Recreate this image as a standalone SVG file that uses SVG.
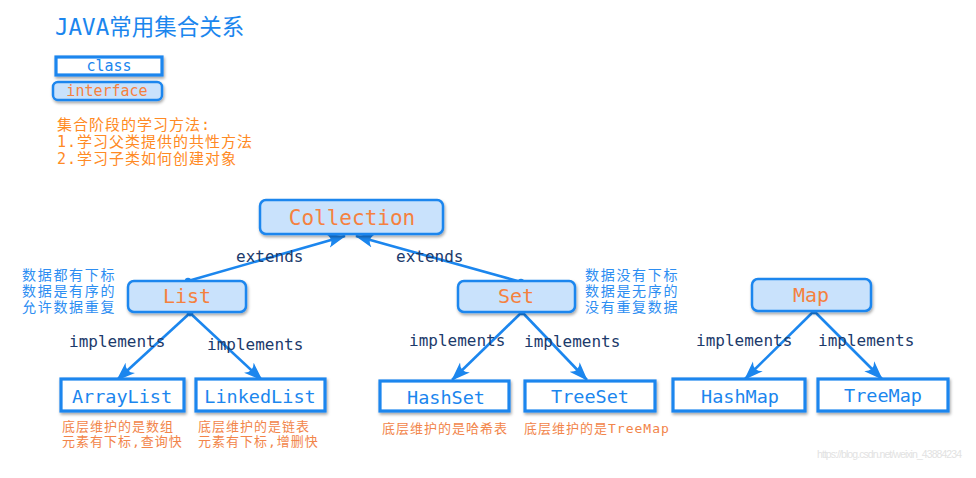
<svg xmlns="http://www.w3.org/2000/svg" width="976" height="478" viewBox="0 0 976 478">
<defs>
<filter id="sh" x="-20%" y="-30%" width="140%" height="170%">
<feDropShadow dx="1" dy="2" stdDeviation="1.6" flood-color="#000" flood-opacity="0.35"/>
</filter>
<marker id="ah" markerUnits="userSpaceOnUse" markerWidth="20" markerHeight="16" viewBox="0 0 20 16" refX="18" refY="8" orient="auto">
<path d="M0,1 Q7,8 0,15 L19,8 Z" fill="#1b86ee"/>
</marker>
<marker id="dot" markerUnits="userSpaceOnUse" markerWidth="8" markerHeight="8" viewBox="0 0 8 8" refX="4" refY="4">
<circle cx="4" cy="4" r="3.2" fill="#1b86ee"/>
</marker>
</defs>
<style>
.mono{font-family:"DejaVu Sans Mono","Noto Sans CJK SC",monospace}
.cjk{font-family:"DejaVu Sans Mono","Noto Sans CJK SC",sans-serif}
.iface{fill:#c9e2fc;stroke:#1b86ee;stroke-width:2.5;filter:url(#sh)}
.cls{fill:#fff;stroke:#1b86ee;stroke-width:3.2;filter:url(#sh)}
.ilbl{fill:#f5813f;text-anchor:middle}
.clbl{fill:#1b86ee;text-anchor:middle;font-size:18.5px}
.rel{fill:#1c3a6b;font-size:16px}
.note{fill:#2d8ef2;font-size:14px;letter-spacing:1.7px}
.cap{fill:#f2854a;font-size:13px;letter-spacing:1px}
.con{stroke:#1b86ee;stroke-width:2.6;fill:none;marker-end:url(#ah);marker-start:url(#dot)}
</style>
<rect width="976" height="478" fill="#fff"/>

<g id="legend">
<text x="55" y="35" class="cjk" font-size="22.5" fill="#1b86ee">JAVA常用集合关系</text>
<rect x="56" y="57" width="106" height="18" class="cls" stroke-width="2.6"/>
<text x="109" y="70.5" class="mono" font-size="15" fill="#1b86ee" text-anchor="middle">class</text>
<rect x="53" y="82" width="109" height="18" rx="5" class="iface"/>
<text x="107" y="96" class="mono" font-size="15" fill="#f5813f" text-anchor="middle">interface</text>
<g class="cjk" font-size="15" fill="#ff8a24" letter-spacing="1">
<text x="57" y="130">集合阶段的学习方法:</text>
<text x="57" y="147">1.学习父类提供的共性方法</text>
<text x="57" y="164">2.学习子类如何创建对象</text>
</g>
</g>

<g id="connectors">
<line x1="188" y1="281" x2="345" y2="236" class="con"/>
<line x1="521" y1="282" x2="356" y2="236" class="con"/>
<line x1="190" y1="313" x2="117" y2="380" class="con"/>
<line x1="190" y1="313" x2="262" y2="380" class="con"/>
<line x1="522" y1="312" x2="452" y2="380" class="con"/>
<line x1="522" y1="312" x2="587" y2="380" class="con"/>
<line x1="814" y1="311" x2="745" y2="379" class="con"/>
<line x1="814" y1="311" x2="882" y2="379" class="con"/>
<g class="mono rel">
<text x="236" y="262">extends</text>
<text x="396" y="262">extends</text>
<text x="69" y="347">implements</text>
<text x="207" y="350">implements</text>
<text x="409" y="346">implements</text>
<text x="524" y="347">implements</text>
<text x="696" y="346">implements</text>
<text x="818" y="346">implements</text>
</g>
</g>

<g id="Collection">
<rect x="260" y="200" width="183" height="34" rx="6" class="iface"/>
<text x="352" y="225" class="mono ilbl" font-size="21">Collection</text>
</g>
<g id="List">
<rect x="128" y="281" width="118" height="31" rx="6" class="iface"/>
<text x="187" y="303" class="mono ilbl" font-size="20">List</text>
<g class="cjk note">
<text x="22" y="280">数据都有下标</text>
<text x="22" y="296">数据是有序的</text>
<text x="22" y="312">允许数据重复</text>
</g>
</g>
<g id="Set">
<rect x="458" y="281" width="117" height="31" rx="6" class="iface"/>
<text x="516" y="303" class="mono ilbl" font-size="20">Set</text>
<g class="cjk note">
<text x="585" y="280">数据没有下标</text>
<text x="585" y="296">数据是无序的</text>
<text x="585" y="312">没有重复数据</text>
</g>
</g>
<g id="Map">
<rect x="752" y="279" width="119" height="32" rx="6" class="iface"/>
<text x="811" y="302" class="mono ilbl" font-size="20">Map</text>
</g>

<g id="ArrayList">
<rect x="61" y="379" width="123" height="32" class="cls"/>
<text x="122" y="403" class="mono clbl">ArrayList</text>
<g class="cjk cap">
<text x="62" y="431">底层维护的是数组</text>
<text x="62" y="446">元素有下标,查询快</text>
</g>
</g>
<g id="LinkedList">
<rect x="196" y="379" width="129" height="32" class="cls"/>
<text x="260" y="403" class="mono clbl">LinkedList</text>
<g class="cjk cap">
<text x="198" y="431">底层维护的是链表</text>
<text x="198" y="446">元素有下标,增删快</text>
</g>
</g>
<g id="HashSet">
<rect x="380" y="381" width="129" height="30" class="cls"/>
<text x="446" y="404" class="mono clbl">HashSet</text>
<text x="382" y="433" class="cjk cap">底层维护的是哈希表</text>
</g>
<g id="TreeSet">
<rect x="525" y="381" width="130" height="30" class="cls"/>
<text x="590" y="403" class="mono clbl">TreeSet</text>
<text x="524" y="433" class="cjk cap">底层维护的是TreeMap</text>
</g>
<g id="HashMap">
<rect x="673" y="379" width="132" height="32" class="cls"/>
<text x="740" y="403" class="mono clbl">HashMap</text>
</g>
<g id="TreeMap">
<rect x="818" y="379" width="130" height="32" class="cls"/>
<text x="883" y="402" class="mono clbl">TreeMap</text>
</g>

<text x="817" y="458" font-family="Liberation Sans, sans-serif" font-size="10.5" fill="#e2e2e2" textLength="145">https://blog.csdn.net/weixin_43884234</text>
</svg>
